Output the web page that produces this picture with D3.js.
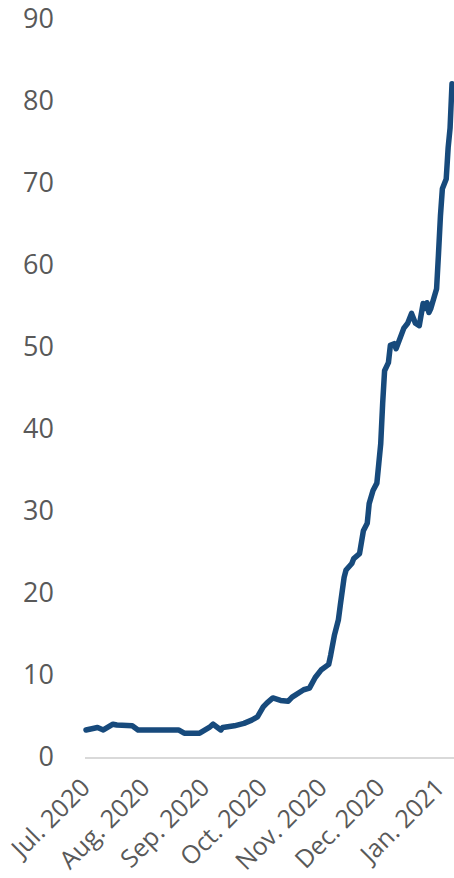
<!DOCTYPE html>
<html>
<head>
<meta charset="utf-8">
<script src="https://cdn.jsdelivr.net/npm/d3@7"></script>
<style>
  body { margin: 0; background: #fff; }
  text { font-family: "Open Sans", sans-serif; fill: #595959; }
</style>
</head>
<body>
<div id="chart"></div>
<script>
let width = 454;
let height = 878;

const dates = [
    "2020-07-01", "2020-07-07", "2020-07-10", "2020-07-15", "2020-07-17", "2020-07-25", "2020-07-28",
    "2020-08-18", "2020-08-21", "2020-08-29",
    "2020-09-03", "2020-09-05", "2020-09-09", "2020-09-10", "2020-09-16", "2020-09-21", "2020-09-25", "2020-09-28",
    "2020-10-01", "2020-10-03", "2020-10-06", "2020-10-10", "2020-10-14", "2020-10-16", "2020-10-22", "2020-10-25",
    "2020-10-28", "2020-10-31",
    "2020-11-04", "2020-11-05", "2020-11-07", "2020-11-09", "2020-11-10", "2020-11-12", "2020-11-13", "2020-11-16",
    "2020-11-17", "2020-11-20", "2020-11-22", "2020-11-24", "2020-11-25", "2020-11-27", "2020-11-29", "2020-11-30",
    "2020-12-01", "2020-12-02", "2020-12-03", "2020-12-05", "2020-12-06", "2020-12-08", "2020-12-09", "2020-12-13",
    "2020-12-15", "2020-12-17", "2020-12-19", "2020-12-21", "2020-12-23", "2020-12-24", "2020-12-25", "2020-12-26",
    "2020-12-27", "2020-12-30", "2020-12-31",
    "2021-01-01", "2021-01-02", "2021-01-04", "2021-01-05", "2021-01-06", "2021-01-07"
];
const values = [
    3.3, 3.6, 3.3, 4.0, 3.9, 3.8, 3.3,
    3.3, 2.9, 2.9,
    3.6, 4.0, 3.3, 3.6, 3.8, 4.1, 4.5, 4.9,
    6.1, 6.6, 7.2, 6.9, 6.8, 7.3, 8.2, 8.4,
    9.7, 10.6,
    11.3, 12.4, 14.9, 16.7, 18.5, 21.9, 22.8, 23.6,
    24.2, 24.8, 27.6, 28.5, 30.9, 32.5, 33.4, 35.8,
    38.2, 43.1, 47.1, 48.1, 50.2, 50.4, 49.8, 52.3,
    52.9, 54.1, 52.9, 52.6, 55.3, 54.7, 55.4, 54.2,
    54.7, 57.1, 61.4,
    66.0, 69.3, 70.5, 74.3, 76.7, 82.1
];
const yTicks = [0, 10, 20, 30, 40, 50, 60, 70, 80, 90];
const monthTicks = ["2020-07-01", "2020-08-01", "2020-09-01", "2020-10-01", "2020-11-01", "2020-12-01", "2021-01-01"];

let parseDate = d3.timeParse("%Y-%m-%d");
let data = dates.map((d, i) => ({ date: parseDate(d), value: values[i] }));

let svg = d3.select("#chart")
    .append("svg")
    .attr("width", width)
    .attr("height", height);

let scaleX = d3.scaleTime()
    .domain([parseDate("2020-07-01"), parseDate("2021-01-07")])
    .range([86, 452]);

let scaleY = d3.scaleLinear()
    .domain([0, 90])
    .range([757, 19]);

// y axis labels, no line
let yAxis = svg.append("g")
    .attr("transform", "translate(54,0)")
    .call(d3.axisLeft(scaleY).tickValues(yTicks).tickSize(0).tickPadding(0));
yAxis.select(".domain").remove();
yAxis.selectAll("text")
    .style("font-size", "27px")
    .attr("fill", "#595959");

// x axis
let xAxis = svg.append("g")
    .attr("transform", "translate(0," + scaleY(0) + ")")
    .call(d3.axisBottom(scaleX)
        .tickValues(monthTicks.map(parseDate))
        .tickFormat(d3.timeFormat("%b. %Y"))
        .tickSize(0));
xAxis.select(".domain")
    .attr("d", "M85,1H454")
    .attr("stroke", "#d9d9d9")
    .attr("stroke-width", 2);
xAxis.selectAll("text")
    .style("font-size", "25px")
    .attr("fill", "#595959")
    .attr("text-anchor", "end")
    .attr("dy", 0)
    .attr("transform", "translate(3,30) rotate(-45)");

svg.append("path")
    .datum(data)
    .attr("fill", "none")
    .attr("stroke", "#174a7c")
    .attr("stroke-width", 5.5)
    .attr("stroke-linejoin", "round")
    .attr("stroke-linecap", "round")
    .attr("d", d3.line()
        .x(d => scaleX(d.date))
        .y(d => scaleY(d.value)));
</script>
</body>
</html>
